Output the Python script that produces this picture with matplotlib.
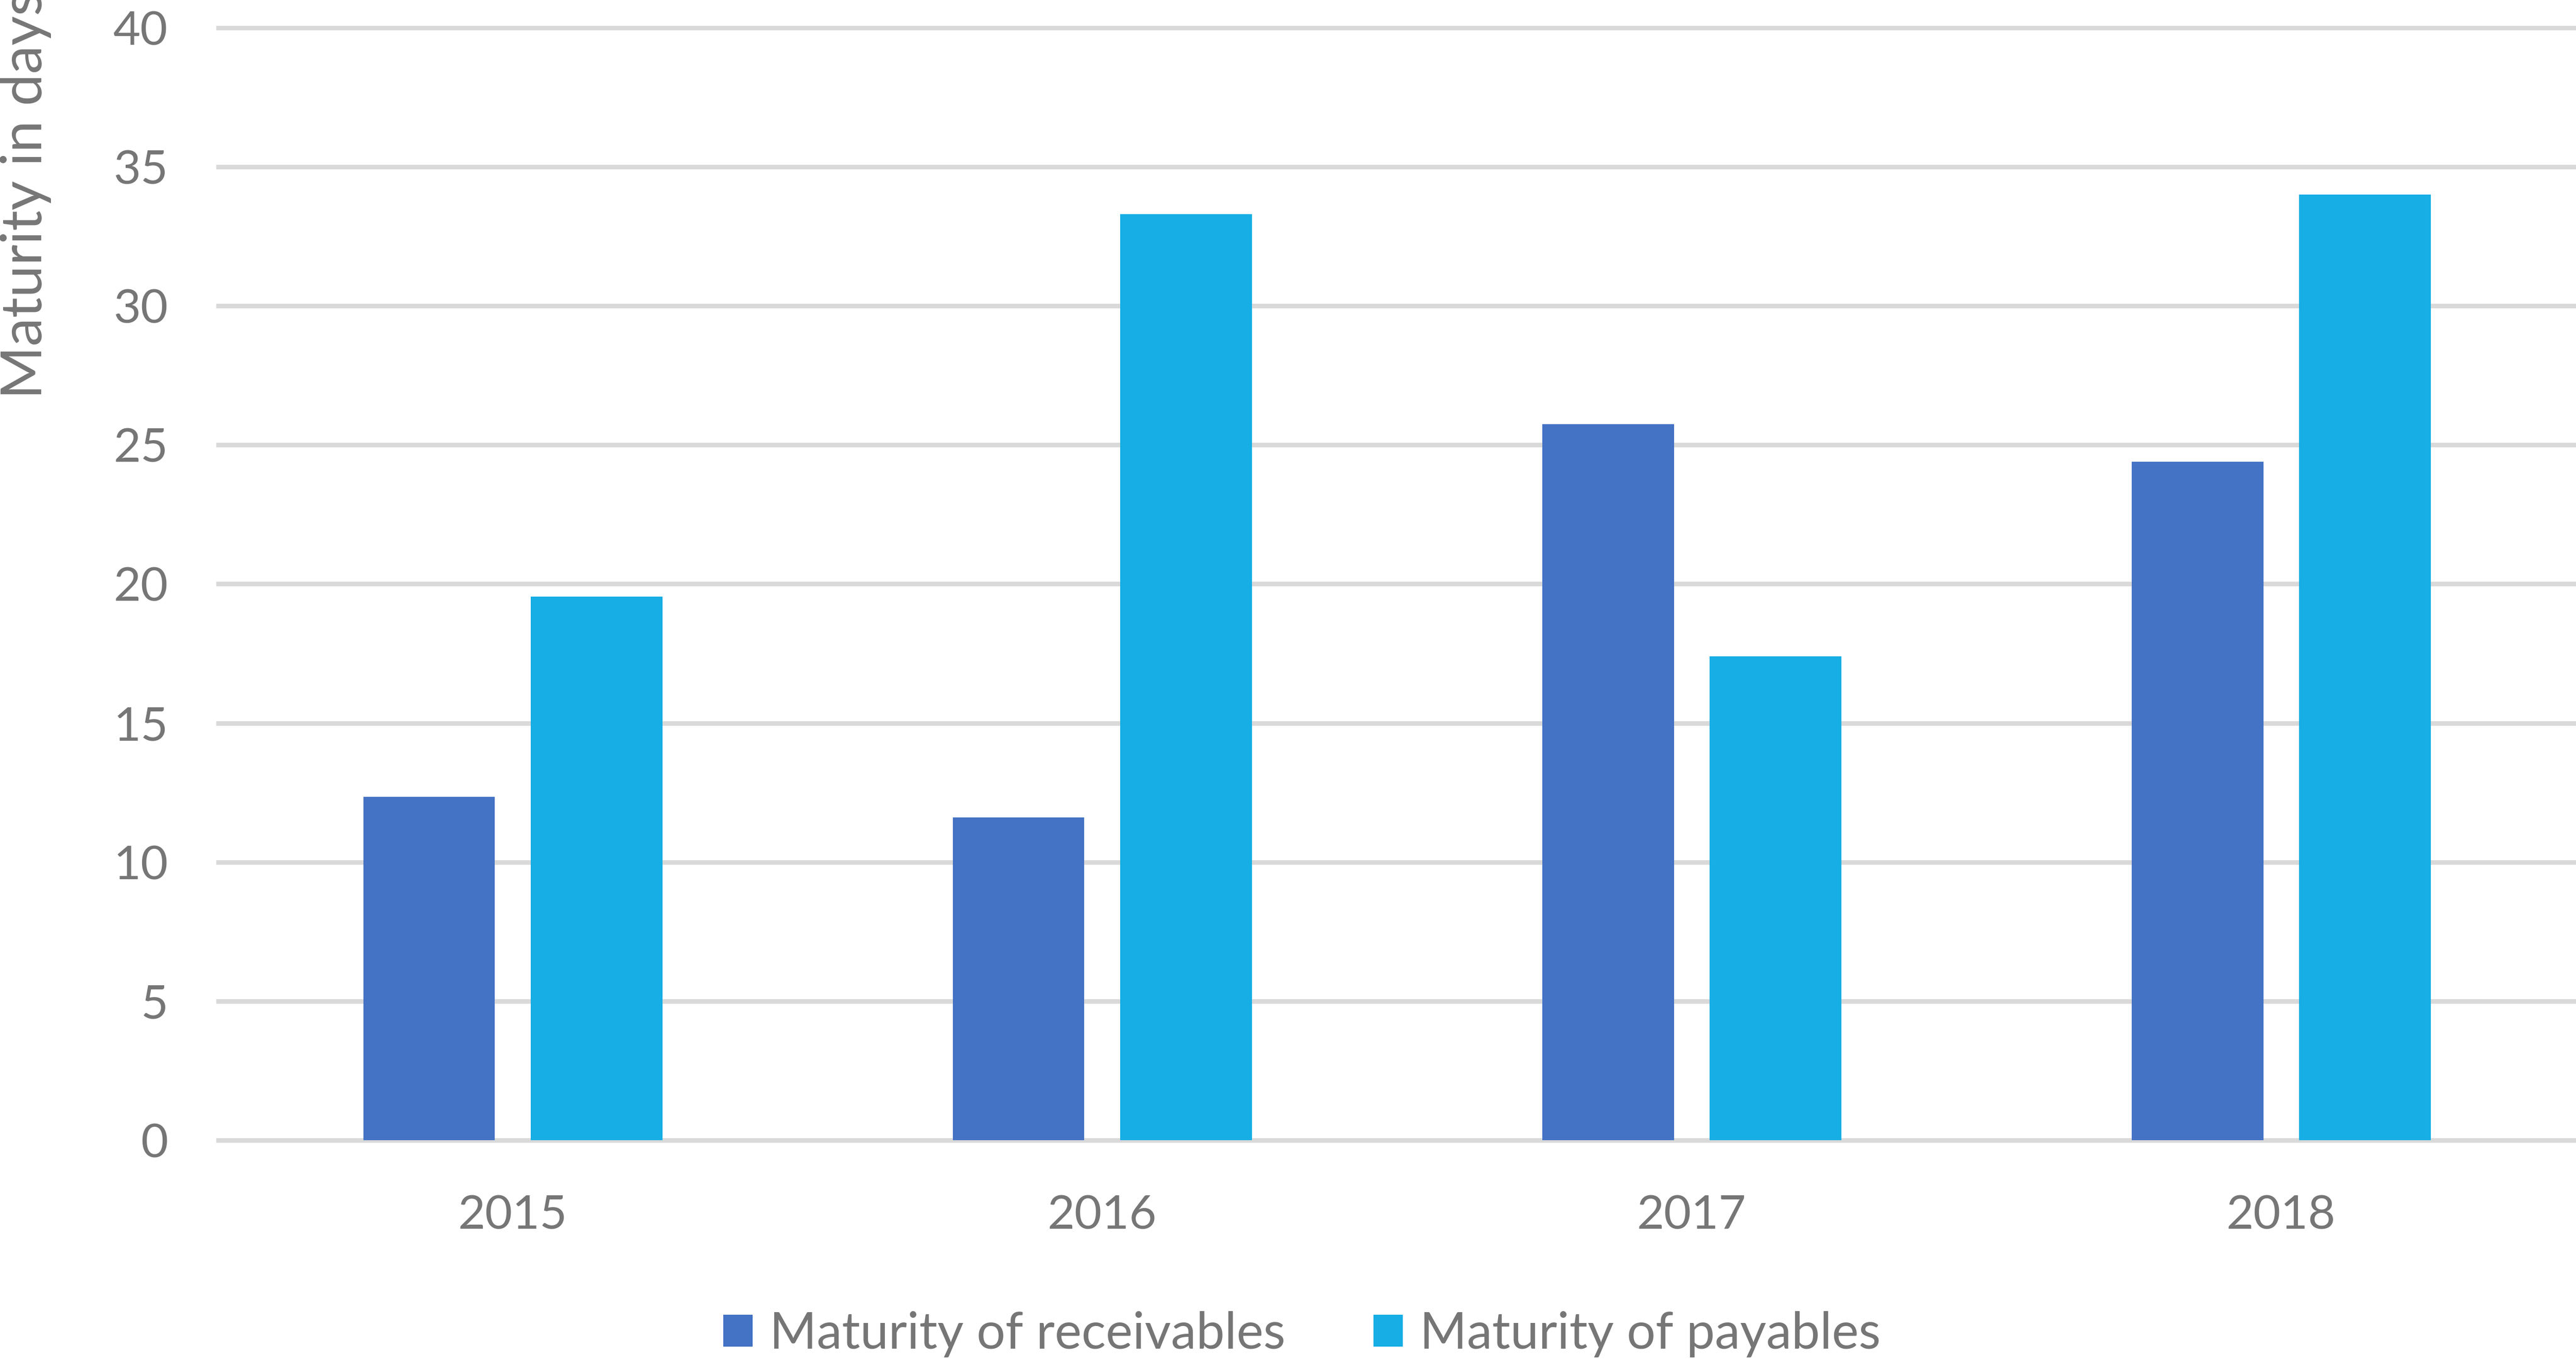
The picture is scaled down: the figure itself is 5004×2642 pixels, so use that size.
import matplotlib
matplotlib.use("Agg")
import matplotlib.pyplot as plt
import numpy as np
from matplotlib.patches import Patch

years = ["2015", "2016", "2017", "2018"]
receivables = [12.35, 11.6, 25.75, 24.4]
payables = [19.55, 33.3, 17.4, 34.0]
series_names = ["Maturity of receivables", "Maturity of payables"]
y_ticks = [0, 5, 10, 15, 20, 25, 30, 35, 40]

c_rec = "#4472C4"
c_pay = "#16AEE4"
grid_c = "#D9D9D9"
txt_c = "#767676"

plt.rcParams["font.family"] = ["Lato", "DejaVu Sans"]

fig = plt.figure(figsize=(25.02, 13.21), dpi=200)
ax = fig.add_axes([0.0847, 0.1616, 0.9153, 0.818])

x = np.arange(len(years))
w = 0.223
off = 0.142
ax.bar(x - off, receivables, width=w, color=c_rec, zorder=3)
ax.bar(x + off, payables, width=w, color=c_pay, zorder=3)

ax.set_xlim(-0.5, 3.5)
ax.set_ylim(0, 40)
ax.set_yticks(y_ticks)
ax.set_xticks(x)
ax.set_xticklabels(years)

for s in ax.spines.values():
    s.set_visible(False)

ax.tick_params(axis="both", length=0, labelsize=33, labelcolor=txt_c)
ax.tick_params(axis="y", pad=35)
ax.tick_params(axis="x", pad=38)

ax.yaxis.grid(True, color=grid_c, linewidth=3.2, zorder=0)
ax.set_axisbelow(True)
for gl in ax.get_ygridlines():
    gl.set_clip_on(False)

fig.text(0.0, 0.7067, "Maturity in days", rotation=90, ha="left", va="bottom",
         fontsize=40, color=txt_c)

handles = [Patch(facecolor=c_rec, edgecolor="none"), Patch(facecolor=c_pay, edgecolor="none")]
leg = fig.legend(handles, series_names, loc="center", bbox_to_anchor=(0.5054, 0.019),
                 ncol=2, frameon=False, fontsize=35.5, handlelength=0.58, handleheight=0.58,
                 handletextpad=0.33, columnspacing=1.74, borderpad=0, borderaxespad=0)
for t in leg.get_texts():
    t.set_color(txt_c)

fig.savefig("out.png", dpi=200, facecolor="white")
